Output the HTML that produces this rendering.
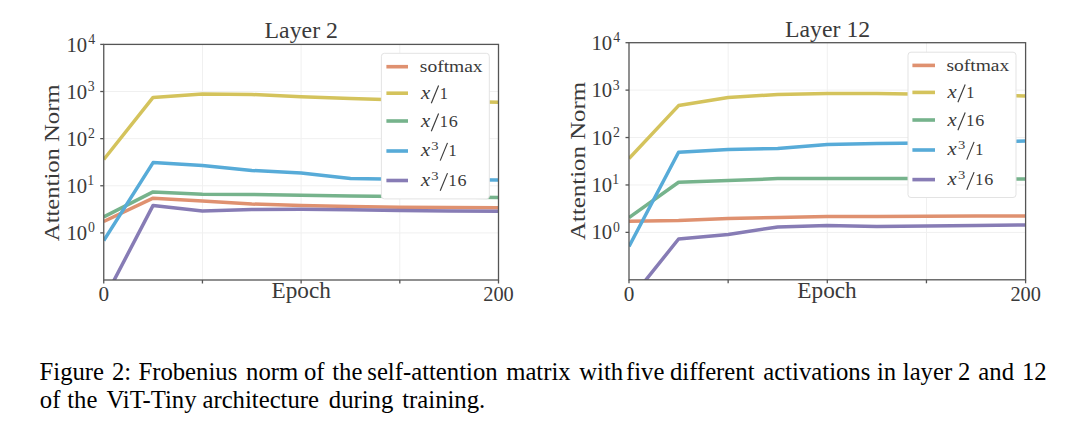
<!DOCTYPE html>
<html><head><meta charset="utf-8"><style>
html,body{margin:0;padding:0;background:#fff;width:1080px;height:435px;overflow:hidden;position:relative}
svg text{font-family:"Liberation Serif",serif}
</style></head><body>
<svg width="1080" height="435" viewBox="0 0 1080 435" style="position:absolute;left:0;top:0"><clipPath id="c0"><rect x="103.75" y="44.4" width="394.75" height="235.6"/></clipPath><g stroke="#f0f0f0" stroke-width="1"><line x1="202.44" y1="44.4" x2="202.44" y2="280"/><line x1="301.12" y1="44.4" x2="301.12" y2="280"/><line x1="399.81" y1="44.4" x2="399.81" y2="280"/><line x1="103.75" y1="91.52" x2="498.5" y2="91.52"/><line x1="103.75" y1="138.64" x2="498.5" y2="138.64"/><line x1="103.75" y1="185.76" x2="498.5" y2="185.76"/><line x1="103.75" y1="232.88" x2="498.5" y2="232.88"/></g><g clip-path="url(#c0)" fill="none" stroke-width="3.5" stroke-linejoin="round"><polyline points="103.75,221.5 153.09,198.2 202.44,201 251.78,204 301.12,205.5 350.47,206.5 399.81,207.2 449.16,207.5 498.5,207.8" stroke="#df9170"/><polyline points="103.75,159.5 153.09,97.4 202.44,94 251.78,94.5 301.12,96.8 350.47,98.5 399.81,100 449.16,101.2 498.5,102.3" stroke="#d4c35c"/><polyline points="103.75,216.9 153.09,191.9 202.44,194.2 251.78,194.4 301.12,195.2 350.47,196 399.81,196.6 449.16,197 498.5,197.5" stroke="#76b38c"/><polyline points="103.75,240.5 153.09,162.6 202.44,165.5 251.78,170.5 301.12,173 350.47,178.5 399.81,179.3 449.16,179.8 498.5,180" stroke="#57abd8"/><polyline points="103.75,300 153.09,205.4 202.44,211 251.78,209.4 301.12,209.3 350.47,209.8 399.81,210.5 449.16,211 498.5,211.2" stroke="#877cb5"/></g><g stroke="#555555" stroke-width="1.3"><rect x="103.75" y="44.4" width="394.75" height="235.6" fill="none"/><line x1="100.25" y1="44.4" x2="103.75" y2="44.4"/><line x1="103.75" y1="280" x2="103.75" y2="283.5"/><line x1="100.25" y1="91.52" x2="103.75" y2="91.52"/><line x1="202.44" y1="280" x2="202.44" y2="283.5"/><line x1="100.25" y1="138.64" x2="103.75" y2="138.64"/><line x1="301.12" y1="280" x2="301.12" y2="283.5"/><line x1="100.25" y1="185.76" x2="103.75" y2="185.76"/><line x1="399.81" y1="280" x2="399.81" y2="283.5"/><line x1="100.25" y1="232.88" x2="103.75" y2="232.88"/><line x1="498.5" y1="280" x2="498.5" y2="283.5"/></g><g fill="#3a3a3a"><text x="66.44" y="51.5" font-size="21" textLength="20.69" lengthAdjust="spacingAndGlyphs">10</text><text x="88.22" y="43.8" font-size="13.8" textLength="6.9" lengthAdjust="spacingAndGlyphs">4</text><text x="66.44" y="98.62" font-size="21" textLength="20.69" lengthAdjust="spacingAndGlyphs">10</text><text x="87.81" y="90.92" font-size="13.8" textLength="6.9" lengthAdjust="spacingAndGlyphs">3</text><text x="66.44" y="145.74" font-size="21" textLength="20.69" lengthAdjust="spacingAndGlyphs">10</text><text x="87.88" y="138.04" font-size="13.8" textLength="6.9" lengthAdjust="spacingAndGlyphs">2</text><text x="66.44" y="192.86" font-size="21" textLength="20.69" lengthAdjust="spacingAndGlyphs">10</text><text x="87.26" y="185.16" font-size="13.8" textLength="6.9" lengthAdjust="spacingAndGlyphs">1</text><text x="66.44" y="239.98" font-size="21" textLength="20.69" lengthAdjust="spacingAndGlyphs">10</text><text x="87.95" y="232.28" font-size="13.8" textLength="6.9" lengthAdjust="spacingAndGlyphs">0</text><text x="98.5" y="300.6" font-size="21" textLength="10.6" lengthAdjust="spacingAndGlyphs">0</text><text x="483.28" y="300.6" font-size="21" textLength="30.53" lengthAdjust="spacingAndGlyphs">200</text><text x="271.5" y="297.8" font-size="22.2" textLength="59.34" lengthAdjust="spacingAndGlyphs">Epoch</text><text x="264.59" y="38.3" font-size="22.5" textLength="73.36" lengthAdjust="spacingAndGlyphs">Layer 2</text><text transform="translate(59.4 240.9) rotate(-90)" x="-0.25" y="0" font-size="22" textLength="156.72" lengthAdjust="spacingAndGlyphs">Attention Norm</text></g><rect x="381.4" y="53.3" width="107.9" height="145.6" rx="3" fill="#fff" stroke="#e3e3e3" stroke-width="1"/><g fill="#3a3a3a"><line x1="386.4" y1="66.7" x2="408" y2="66.7" stroke="#df9170" stroke-width="3.6"/><text x="419.82" y="72.4" font-size="17.3" textLength="62.81" lengthAdjust="spacingAndGlyphs">softmax</text><line x1="386.4" y1="93.2" x2="408" y2="93.2" stroke="#d4c35c" stroke-width="3.6"/><text x="421.01" y="98.7" font-size="18" textLength="9.18" lengthAdjust="spacingAndGlyphs" font-style="italic">x</text><line x1="431.3" y1="103.2" x2="438.6" y2="85.5" stroke="#3a3a3a" stroke-width="1.15"/><text x="439.63" y="98.7" font-size="17.4" textLength="8.14" lengthAdjust="spacingAndGlyphs">1</text><line x1="386.4" y1="121" x2="408" y2="121" stroke="#76b38c" stroke-width="3.6"/><text x="421.01" y="126.7" font-size="18" textLength="9.18" lengthAdjust="spacingAndGlyphs" font-style="italic">x</text><line x1="431.3" y1="131.2" x2="438.6" y2="113.5" stroke="#3a3a3a" stroke-width="1.15"/><text x="439.63" y="126.7" font-size="17.4" textLength="8.14" lengthAdjust="spacingAndGlyphs">1</text><text x="448.68" y="126.7" font-size="17.4" textLength="9.06" lengthAdjust="spacingAndGlyphs">6</text><line x1="386.4" y1="151" x2="408" y2="151" stroke="#57abd8" stroke-width="3.6"/><text x="421.01" y="156.1" font-size="18" textLength="9.18" lengthAdjust="spacingAndGlyphs" font-style="italic">x</text><text x="431.37" y="149.5" font-size="11.8" textLength="7.32" lengthAdjust="spacingAndGlyphs">3</text><line x1="440.2" y1="160.6" x2="447.5" y2="142.9" stroke="#3a3a3a" stroke-width="1.15"/><text x="448.53" y="156.1" font-size="17.4" textLength="8.14" lengthAdjust="spacingAndGlyphs">1</text><line x1="386.4" y1="180.5" x2="408" y2="180.5" stroke="#877cb5" stroke-width="3.6"/><text x="421.01" y="186.3" font-size="18" textLength="9.18" lengthAdjust="spacingAndGlyphs" font-style="italic">x</text><text x="431.37" y="179.7" font-size="11.8" textLength="7.32" lengthAdjust="spacingAndGlyphs">3</text><line x1="440.2" y1="190.8" x2="447.5" y2="173.1" stroke="#3a3a3a" stroke-width="1.15"/><text x="448.53" y="186.3" font-size="17.4" textLength="8.14" lengthAdjust="spacingAndGlyphs">1</text><text x="457.58" y="186.3" font-size="17.4" textLength="9.06" lengthAdjust="spacingAndGlyphs">6</text></g><clipPath id="c1"><rect x="629" y="42.7" width="396.6" height="237.1"/></clipPath><g stroke="#f0f0f0" stroke-width="1"><line x1="728.15" y1="42.7" x2="728.15" y2="279.8"/><line x1="827.3" y1="42.7" x2="827.3" y2="279.8"/><line x1="926.45" y1="42.7" x2="926.45" y2="279.8"/><line x1="629" y1="90.12" x2="1025.6" y2="90.12"/><line x1="629" y1="137.54" x2="1025.6" y2="137.54"/><line x1="629" y1="184.96" x2="1025.6" y2="184.96"/><line x1="629" y1="232.38" x2="1025.6" y2="232.38"/></g><g clip-path="url(#c1)" fill="none" stroke-width="3.5" stroke-linejoin="round"><polyline points="629,221.2 678.58,220.6 728.15,218.6 777.72,217.4 827.3,216.6 876.88,216.4 926.45,216.2 976.02,216.1 1025.6,216" stroke="#df9170"/><polyline points="629,158.5 678.58,105.6 728.15,97.6 777.72,94.4 827.3,93.6 876.88,93.6 926.45,94.2 976.02,95 1025.6,96" stroke="#d4c35c"/><polyline points="629,217.6 678.58,182.3 728.15,180.6 777.72,178.6 827.3,178.4 876.88,178.5 926.45,178.6 976.02,178.8 1025.6,179" stroke="#76b38c"/><polyline points="629,246.5 678.58,152.3 728.15,149.4 777.72,148.6 827.3,144.4 876.88,143.6 926.45,143 976.02,142 1025.6,141" stroke="#57abd8"/><polyline points="629,301 678.58,239 728.15,234.4 777.72,227 827.3,225.6 876.88,226.4 926.45,226 976.02,225.5 1025.6,225" stroke="#877cb5"/></g><g stroke="#555555" stroke-width="1.3"><rect x="629" y="42.7" width="396.6" height="237.1" fill="none"/><line x1="625.5" y1="42.7" x2="629" y2="42.7"/><line x1="629" y1="279.8" x2="629" y2="283.3"/><line x1="625.5" y1="90.12" x2="629" y2="90.12"/><line x1="728.15" y1="279.8" x2="728.15" y2="283.3"/><line x1="625.5" y1="137.54" x2="629" y2="137.54"/><line x1="827.3" y1="279.8" x2="827.3" y2="283.3"/><line x1="625.5" y1="184.96" x2="629" y2="184.96"/><line x1="926.45" y1="279.8" x2="926.45" y2="283.3"/><line x1="625.5" y1="232.38" x2="629" y2="232.38"/><line x1="1025.6" y1="279.8" x2="1025.6" y2="283.3"/></g><g fill="#3a3a3a"><text x="591.44" y="49.8" font-size="21" textLength="20.69" lengthAdjust="spacingAndGlyphs">10</text><text x="613.22" y="42.1" font-size="13.8" textLength="6.9" lengthAdjust="spacingAndGlyphs">4</text><text x="591.44" y="97.22" font-size="21" textLength="20.69" lengthAdjust="spacingAndGlyphs">10</text><text x="612.81" y="89.52" font-size="13.8" textLength="6.9" lengthAdjust="spacingAndGlyphs">3</text><text x="591.44" y="144.64" font-size="21" textLength="20.69" lengthAdjust="spacingAndGlyphs">10</text><text x="612.88" y="136.94" font-size="13.8" textLength="6.9" lengthAdjust="spacingAndGlyphs">2</text><text x="591.44" y="192.06" font-size="21" textLength="20.69" lengthAdjust="spacingAndGlyphs">10</text><text x="612.26" y="184.36" font-size="13.8" textLength="6.9" lengthAdjust="spacingAndGlyphs">1</text><text x="591.44" y="239.48" font-size="21" textLength="20.69" lengthAdjust="spacingAndGlyphs">10</text><text x="612.95" y="231.78" font-size="13.8" textLength="6.9" lengthAdjust="spacingAndGlyphs">0</text><text x="623.75" y="300.6" font-size="21" textLength="10.6" lengthAdjust="spacingAndGlyphs">0</text><text x="1010.38" y="300.6" font-size="21" textLength="30.53" lengthAdjust="spacingAndGlyphs">200</text><text x="797.3" y="297.8" font-size="22.2" textLength="59.44" lengthAdjust="spacingAndGlyphs">Epoch</text><text x="785.09" y="37" font-size="22.5" textLength="85.06" lengthAdjust="spacingAndGlyphs">Layer 12</text><text transform="translate(584.6 239.7) rotate(-90)" x="-0.25" y="0" font-size="22" textLength="158.13" lengthAdjust="spacingAndGlyphs">Attention Norm</text></g><rect x="908" y="52.2" width="108" height="145.3" rx="3" fill="#fff" stroke="#e3e3e3" stroke-width="1"/><g fill="#3a3a3a"><line x1="912.4" y1="65.4" x2="935" y2="65.4" stroke="#df9170" stroke-width="3.6"/><text x="946.42" y="71.3" font-size="17.3" textLength="62.81" lengthAdjust="spacingAndGlyphs">softmax</text><line x1="912.4" y1="92.4" x2="935" y2="92.4" stroke="#d4c35c" stroke-width="3.6"/><text x="947.61" y="97.7" font-size="18" textLength="9.18" lengthAdjust="spacingAndGlyphs" font-style="italic">x</text><line x1="957.9" y1="102.2" x2="965.2" y2="84.5" stroke="#3a3a3a" stroke-width="1.15"/><text x="966.23" y="97.7" font-size="17.4" textLength="8.14" lengthAdjust="spacingAndGlyphs">1</text><line x1="912.4" y1="120" x2="935" y2="120" stroke="#76b38c" stroke-width="3.6"/><text x="947.61" y="125.7" font-size="18" textLength="9.18" lengthAdjust="spacingAndGlyphs" font-style="italic">x</text><line x1="957.9" y1="130.2" x2="965.2" y2="112.5" stroke="#3a3a3a" stroke-width="1.15"/><text x="966.23" y="125.7" font-size="17.4" textLength="8.14" lengthAdjust="spacingAndGlyphs">1</text><text x="975.28" y="125.7" font-size="17.4" textLength="9.06" lengthAdjust="spacingAndGlyphs">6</text><line x1="912.4" y1="150" x2="935" y2="150" stroke="#57abd8" stroke-width="3.6"/><text x="947.61" y="155.1" font-size="18" textLength="9.18" lengthAdjust="spacingAndGlyphs" font-style="italic">x</text><text x="957.97" y="148.5" font-size="11.8" textLength="7.32" lengthAdjust="spacingAndGlyphs">3</text><line x1="966.8" y1="159.6" x2="974.1" y2="141.9" stroke="#3a3a3a" stroke-width="1.15"/><text x="975.13" y="155.1" font-size="17.4" textLength="8.14" lengthAdjust="spacingAndGlyphs">1</text><line x1="912.4" y1="179.6" x2="935" y2="179.6" stroke="#877cb5" stroke-width="3.6"/><text x="947.61" y="185.3" font-size="18" textLength="9.18" lengthAdjust="spacingAndGlyphs" font-style="italic">x</text><text x="957.97" y="178.7" font-size="11.8" textLength="7.32" lengthAdjust="spacingAndGlyphs">3</text><line x1="966.8" y1="189.8" x2="974.1" y2="172.1" stroke="#3a3a3a" stroke-width="1.15"/><text x="975.13" y="185.3" font-size="17.4" textLength="8.14" lengthAdjust="spacingAndGlyphs">1</text><text x="984.18" y="185.3" font-size="17.4" textLength="9.06" lengthAdjust="spacingAndGlyphs">6</text></g><g fill="#000" font-size="25"><text x="39.56" y="379.6" textLength="64.49" lengthAdjust="spacingAndGlyphs">Figure</text><text x="111.89" y="379.6" textLength="19.21" lengthAdjust="spacingAndGlyphs">2:</text><text x="138.46" y="379.6" textLength="98.8" lengthAdjust="spacingAndGlyphs">Frobenius</text><text x="246.08" y="379.6" textLength="52.14" lengthAdjust="spacingAndGlyphs">norm</text><text x="304.01" y="379.6" textLength="20.58" lengthAdjust="spacingAndGlyphs">of</text><text x="332.25" y="379.6" textLength="30.17" lengthAdjust="spacingAndGlyphs">the</text><text x="367.31" y="379.6" textLength="130.31" lengthAdjust="spacingAndGlyphs">self-attention</text><text x="506.21" y="379.6" textLength="64.47" lengthAdjust="spacingAndGlyphs">matrix</text><text x="579.2" y="379.6" textLength="43.91" lengthAdjust="spacingAndGlyphs">with</text><text x="625.96" y="379.6" textLength="38.4" lengthAdjust="spacingAndGlyphs">five</text><text x="669.94" y="379.6" textLength="84.58" lengthAdjust="spacingAndGlyphs">different</text><text x="763.34" y="379.6" textLength="107" lengthAdjust="spacingAndGlyphs">activations</text><text x="877.01" y="379.6" textLength="19.21" lengthAdjust="spacingAndGlyphs">in</text><text x="902.81" y="379.6" textLength="49.36" lengthAdjust="spacingAndGlyphs">layer</text><text x="958.09" y="379.6" textLength="12.35" lengthAdjust="spacingAndGlyphs">2</text><text x="978.34" y="379.6" textLength="35.66" lengthAdjust="spacingAndGlyphs">and</text><text x="1021.98" y="379.6" textLength="24.7" lengthAdjust="spacingAndGlyphs">12</text><text x="39.81" y="407.7" textLength="20.58" lengthAdjust="spacingAndGlyphs">of</text><text x="67.25" y="407.7" textLength="30.17" lengthAdjust="spacingAndGlyphs">the</text><text x="106.45" y="407.7" textLength="90.05" lengthAdjust="spacingAndGlyphs">ViT-Tiny</text><text x="202.44" y="407.7" textLength="116.55" lengthAdjust="spacingAndGlyphs">architecture</text><text x="328.84" y="407.7" textLength="64.49" lengthAdjust="spacingAndGlyphs">during</text><text x="402.25" y="407.7" textLength="83" lengthAdjust="spacingAndGlyphs">training.</text></g></svg>
</body></html>
